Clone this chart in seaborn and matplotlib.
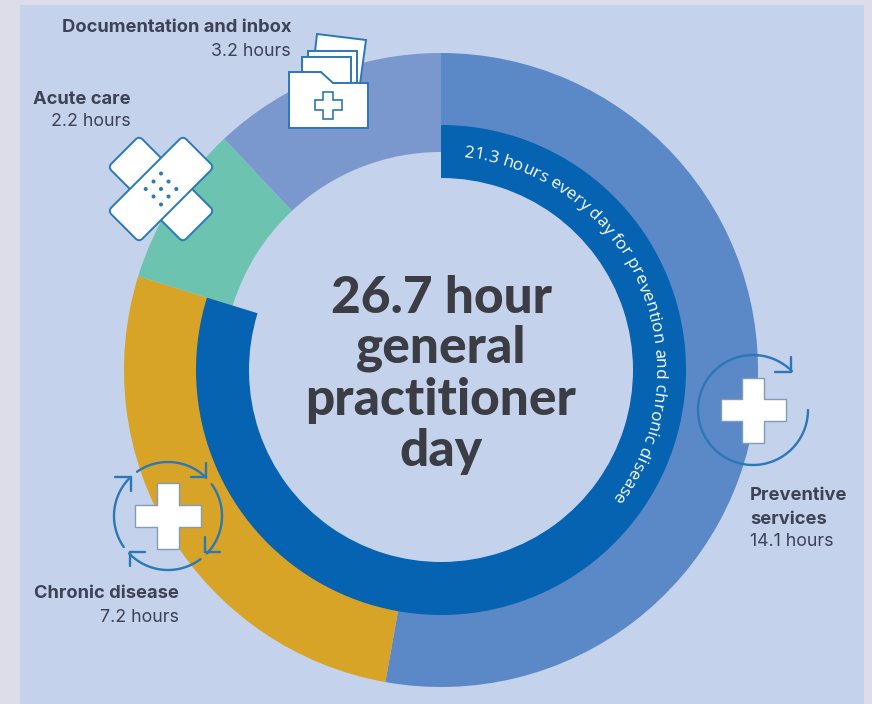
import numpy as np
import matplotlib
matplotlib.use('Agg')
import matplotlib.pyplot as plt
import seaborn as sns
from matplotlib.patches import Rectangle, Polygon, FancyBboxPatch, Circle
from matplotlib.transforms import Affine2D

# data
categories = ['Preventive services', 'Chronic disease', 'Acute care', 'Documentation and inbox']
hours = [14.1, 7.2, 2.2, 3.2]
total_day = '26.7 hour'
title_lines = [total_day, 'general', 'practitioner', 'day']
prevention_hours = [21.3, 5.4]
arc_text = '21.3 hours every day for prevention and chronic disease'

ring_colors = sns.color_palette(['#5B88C6', '#D7A427', '#6CC4B0', '#7B98CE'])
inner_color = '#0563B1'
icon_color = '#2B78B6'
text_dark = '#3B3C44'
text_label = '#3D4254'

sns.set_theme(style='white')
plt.rcParams['font.family'] = ['Inter', 'DejaVu Sans']

H = 704
CX, CY = 441, 370


def Y(y):
    # picture coordinates have y going down
    return H - y


fig = plt.figure(figsize=(8.72, 7.04), dpi=100, facecolor='#DDDDEA')
ax = fig.add_axes([0, 0, 1, 1])
ax.set_facecolor('#DDDDEA')

ax.add_patch(Rectangle((20, 0), 844, H - 5, color='#C5D2EC', lw=0, zorder=0))

# outer ring
ax.pie(hours, colors=ring_colors, startangle=90, counterclock=False, center=(CX, Y(CY)),
       radius=317, wedgeprops=dict(width=99, linewidth=0), frame=True)
# inner ring
ax.pie(prevention_hours, colors=[inner_color, 'none'], startangle=90, counterclock=False,
       center=(CX, Y(CY)), radius=245, wedgeprops=dict(width=53, linewidth=0), frame=True)

ax.set_xlim(0, 872)
ax.set_ylim(0, H)
ax.set_aspect('equal')
ax.set_axis_off()

# centre title
for line, y in zip(title_lines, [313, 363, 415, 466]):
    ax.text(441, Y(y), line, ha='center', va='baseline', fontsize=37, fontweight='black',
            color=text_dark, family=['Lato', 'DejaVu Sans'])

# curved text
renderer = fig.canvas.get_renderer()
probe = ax.text(0, 0, '', fontsize=12.4, family=['Open Sans', 'DejaVu Sans'])
prop = probe.get_fontproperties()
probe.remove()


def text_width(s):
    return renderer.get_text_width_height_descent(s, prop, False)[0]


start_deg, r_base = 6.0, 214
for i, ch in enumerate(arc_text):
    if ch == ' ':
        continue
    mid = text_width(arc_text[:i + 1]) - text_width(ch) / 2
    phi = start_deg + np.degrees(mid / r_base)
    ax.text(CX + r_base * np.sin(np.radians(phi)), Y(CY) + r_base * np.cos(np.radians(phi)), ch,
            fontproperties=prop, color='white', rotation=-phi, rotation_mode='anchor',
            ha='center', va='baseline')


# labels
def label(x, y, lines, n_bold, ha):
    for j, s in enumerate(lines):
        bold = j < n_bold
        ax.text(x, Y(y + 1 + j * 23), s, ha=ha, va='center', fontsize=13.2 if bold else 12.8, color=text_label,
                fontweight='bold' if bold else 'normal')


label(291, 27, [categories[3], f'{hours[3]} hours'], 1, 'right')
label(131, 98, [categories[2], f'{hours[2]} hours'], 1, 'right')
label(179, 593, [categories[1], f'{hours[1]} hours'], 1, 'right')
label(750, 495, ['Preventive', 'services', f'{hours[0]} hours'], 2, 'left')


# icons
def plus_shape(cx, cy, a, b):
    pts = [(-b, -a), (b, -a), (b, -b), (a, -b), (a, b), (b, b), (b, a), (-b, a),
           (-b, b), (-a, b), (-a, -b), (-b, -b)]
    return [(cx + px, Y(cy + py)) for px, py in pts]


def arc(cx, cy, r, t0, t1, lw=1.7):
    t = np.radians(np.linspace(t0, t1, 80))
    ax.plot(cx + r * np.cos(t), Y(cy) + r * np.sin(t), color=icon_color, lw=lw, zorder=6)


def segs(pairs, lw=1.7):
    for (x0, y0), (x1, y1) in pairs:
        ax.plot([x0, x1], [Y(y0), Y(y1)], color=icon_color, lw=lw, zorder=6, solid_capstyle='round')


def white_poly(pts, lw=1.4, z=7):
    ax.add_patch(Polygon([(x, Y(y)) for x, y in pts], closed=True, fc='white', ec=icon_color, lw=lw, zorder=z))


# preventive icon
arc(753, 410, 55, 0, -315)
segs([((791, 357), (791, 372)), ((775, 372), (791, 372))])
ax.add_patch(Polygon(plus_shape(753, 410, 32.5, 11), closed=True, fc='white', ec='#7F9CB8', lw=1, zorder=7))

# chronic icon
arc(168, 516, 54, 125, 45)
arc(168, 516, 54, 36, -44)
arc(168, 516, 54, -53, -136)
arc(168, 516, 54, -145, -226)
segs([((206, 463), (206, 477)), ((191, 477), (206, 477)),
      ((205, 537), (205, 552)), ((220, 552), (205, 552)),
      ((130, 552), (130, 566)), ((145, 552), (130, 552)),
      ((131, 477), (131, 491)), ((115, 477), (131, 477))])
ax.add_patch(Polygon(plus_shape(168, 516, 32.7, 11.3), closed=True, fc='white', ec='#7F9CB8', lw=1, zorder=7))

# folder icon
white_poly([(317, 34), (366, 40), (360, 84), (312, 78)])
white_poly([(308, 51), (357, 51), (357, 84), (308, 84)])
white_poly([(302, 57), (351, 57), (351, 84), (302, 84)])
white_poly([(289, 72), (321, 72), (333, 83), (368, 83), (368, 128), (289, 128)])
ax.add_patch(Polygon(plus_shape(328, 105, 13.5, 4.7), closed=True, fc='white', ec=icon_color, lw=1.2, zorder=8))

# plaster icon
for angle, z in [(-45, 7), (45, 7.5)]:
    tr = Affine2D().rotate_deg_around(161, Y(189), angle) + ax.transData
    strip = FancyBboxPatch((161 - 49, Y(189) - 18), 98, 36, boxstyle='round,pad=4,rounding_size=5',
                           fc='white', ec=icon_color, lw=1.4, zorder=z, transform=tr)
    ax.add_patch(strip)
segs([((165, 165), (185, 184)), ((136, 193), (156, 213))], lw=1.1)
for d in [(0, -23), (-7.5, -15), (7.5, -15), (-15.3, -7.5), (0, -7.5), (15.3, -7.5), (-7.5, 0), (7.5, 0), (0, 8)]:
    ax.add_patch(Circle((161 + d[0], Y(196.5 + d[1])), 2, fc=icon_color, lw=0, zorder=9))

fig.savefig('out.png', dpi=100, facecolor=fig.get_facecolor())
